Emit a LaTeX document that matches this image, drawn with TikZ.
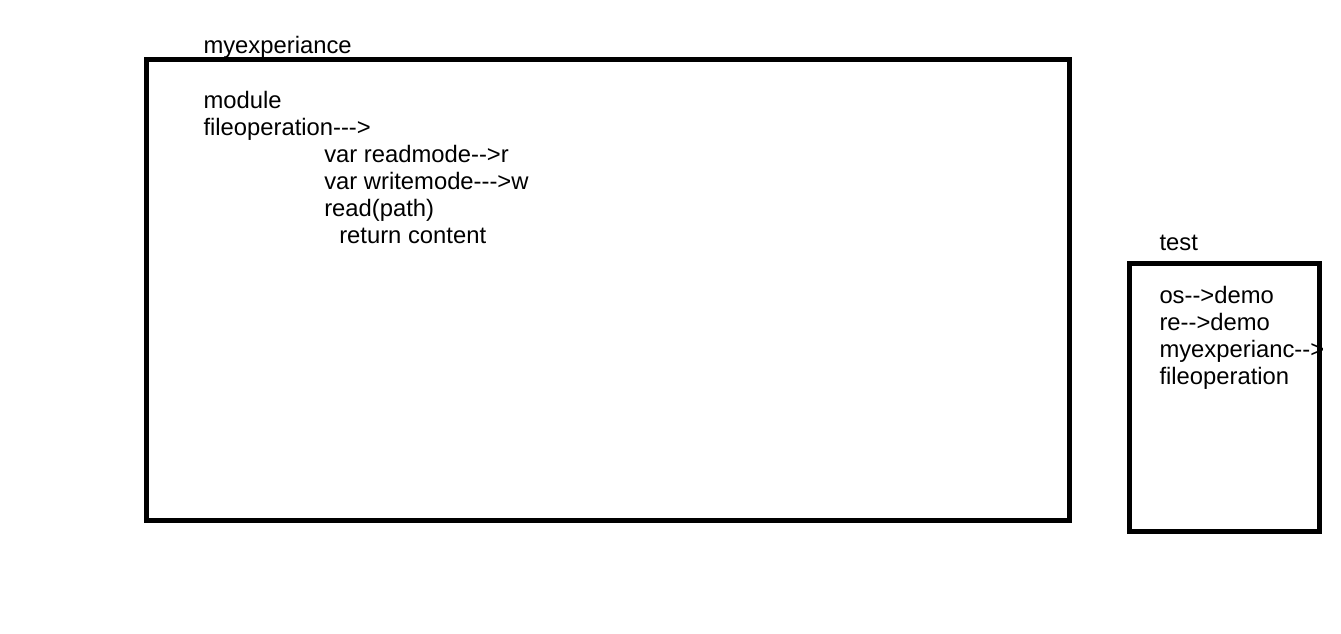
\documentclass[tikz,border=0pt]{standalone}
\usepackage{fontspec}
\newfontfamily\arialf{Liberation Sans}
\begin{document}
\begin{tikzpicture}[x=1pt,y=-1pt,
  txt/.style={anchor=base west,inner sep=0pt,outer sep=0pt,font=\arialf\fontsize{23.8}{27}\selectfont},
  box/.style={draw=black,line width=5pt,fill=none,inner sep=0pt,outer sep=0pt}]
\useasboundingbox[fill=white] (0,0) rectangle (1341,634);
% texts of box 1
\node[txt] (t1) at (203.5,53) {myexperiance};
\node[txt] (l1) at (203.5,108) {module};
\node[txt] (l2) at (203.5,135) {fileoperation-{}-{}->};
\node[txt] (l3) at (324.3,162) {var readmode-{}->r};
\node[txt] (l4) at (324.3,189) {var writemode-{}-{}->w};
\node[txt] (l5) at (324.3,216) {read(path)};
\node[txt] (l6) at (339.3,243) {return content};
% texts of box 2
\node[txt] (t2) at (1159.5,250) {test};
\node[txt] (m1) at (1159.5,303) {os-{}->demo};
\node[txt] (m2) at (1159.5,330) {re-{}->demo};
\node[txt] (m3) at (1159.5,357) {myexperianc-{}->};
\node[txt] (m4) at (1159.5,384) {fileoperation};
% boxes
\node[box,minimum width=923pt,minimum height=461pt] (b1) at (608,290) {};
\node[box,minimum width=190pt,minimum height=268pt] (b2) at (1224.5,397.5) {};
\end{tikzpicture}
\end{document}
